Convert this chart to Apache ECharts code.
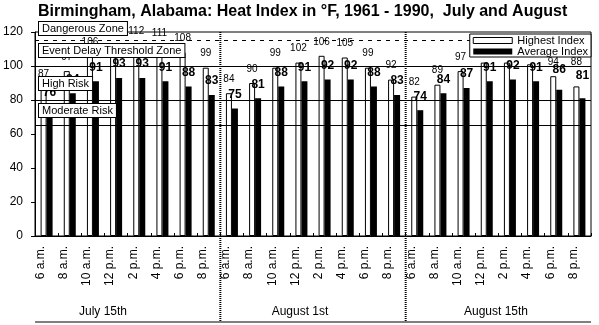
<!DOCTYPE html>
<html><head><meta charset="utf-8">
<script src="https://cdn.jsdelivr.net/npm/echarts@6/dist/echarts.min.js"></script>
<style>html,body{margin:0;padding:0;background:#fff}#c{width:599px;height:325px}</style>
</head><body><div id="c"></div>
<script>
const hours = ["6 a.m.", "8 a.m.", "10 a.m.", "12 p.m.", "2 p.m.", "4 p.m.", "6 p.m.", "8 p.m."];
const dates = ["July 15th", "August 1st", "August 15th"];
const categories = [].concat(hours, hours, hours);
const highestIndex = [87, 97, 106, 113, 112, 111, 108, 99,
                      84, 90, 99, 102, 106, 105, 99, 92,
                      82, 89, 97, 102, 102, 101, 94, 88];
const averageIndex = [76, 84, 91, 93, 93, 91, 88, 83,
                      75, 81, 88, 91, 92, 92, 88, 83,
                      74, 84, 87, 91, 92, 91, 86, 81];
const seriesNames = ["Highest Index", "Average Index"];
const dangerLine = 115;
const riskLines = [100, 80, 65];
const zoneNames = ["Dangerous Zone", "Event Delay Threshold Zone", "High Risk", "Moderate Risk"];
const titleText = "Birmingham, Alabama: Heat Index in °F, 1961 - 1990,  July and August";

const FONT = "'Liberation Sans', Arial, sans-serif";
const chart = echarts.init(document.getElementById('c'), null, {renderer: 'canvas'});

// a few data labels were lifted by hand in the original
const liftHighest = {23: 10};
const liftAverage = {22: 6, 23: 9};
const withLift = (arr, lift) => arr.map((v, i) => lift[i] ? {value: v, label: {offset: [0, -lift[i]]}} : v);

const option = {
  animation: false,
  backgroundColor: '#fff',
  title: {
    text: titleText, left: 38, top: 3, padding: 0,
    textStyle: {fontFamily: FONT, fontSize: 16, fontWeight: 'bold', color: '#000', lineHeight: 17}
  },
  legend: {
    orient: 'vertical', top: 34, right: 8, z: 20,
    backgroundColor: '#fff', borderColor: '#000', borderWidth: 1, borderRadius: 0,
    padding: [1, 3, 0, 3], itemGap: 0, itemWidth: 39, itemHeight: 6,
    icon: 'rect',
    textStyle: {fontFamily: FONT, fontSize: 11, color: '#000', lineHeight: 9.5},
    data: [
      {name: seriesNames[0], itemStyle: {color: '#fff', borderColor: '#000', borderWidth: 1}},
      {name: seriesNames[1], itemStyle: {color: '#000'}}
    ]
  },
  grid: {left: 34, right: 8, top: 32, bottom: 89, show: true, borderColor: '#000', borderWidth: 1, backgroundColor: 'transparent'},
  xAxis: {
    type: 'category', data: categories,
    axisLine: {lineStyle: {color: '#000', width: 1}},
    axisTick: {show: true, inside: true, length: 3, lineStyle: {color: '#000'}},
    axisLabel: {rotate: 90, margin: 10, fontFamily: FONT, fontSize: 12, color: '#000', verticalAlign: 'bottom', interval: 0},
    splitLine: {show: false}
  },
  yAxis: {
    type: 'value', min: 0, max: 120, interval: 20,
    axisLine: {show: true, lineStyle: {color: '#000', width: 1}},
    axisTick: {show: true, length: 4, lineStyle: {color: '#000'}},
    axisLabel: {margin: 12, fontFamily: FONT, fontSize: 12, color: '#000'},
    splitLine: {show: false}
  },
  series: [
    {
      name: seriesNames[0], type: 'bar', data: withLift(highestIndex, liftHighest), barWidth: 6, barGap: '0%',
      itemStyle: {color: '#fff', borderColor: '#000', borderWidth: 1},
      label: {show: true, position: 'top', distance: 9, fontFamily: FONT, fontSize: 10, color: '#000'}
    },
    {
      name: seriesNames[1], type: 'bar', data: withLift(averageIndex, liftAverage), barWidth: 6, barGap: '0%',
      itemStyle: {color: '#000'},
      label: {show: true, position: 'top', distance: 8, fontFamily: FONT, fontSize: 12, fontWeight: 'bold', color: '#000'},
      markLine: {
        silent: true, symbol: 'none', z: 5,
        label: {show: false},
        lineStyle: {color: '#000', width: 1, type: 'solid'},
        data: [{yAxis: dangerLine, lineStyle: {type: [4, 5]}}].concat(riskLines.map(v => ({yAxis: v})))
      }
    }
  ]
};
chart.setOption(option);

// annotations, dividers and group labels
const px = (i) => chart.convertToPixel({xAxisIndex: 0}, i);
const py = (v) => chart.convertToPixel({yAxisIndex: 0}, v);
const step = px(1) - px(0);
const x0 = px(0) - step / 2;
const yTop = py(120);
const yBottom = 322;
const right = x0 + step * categories.length;
const g = [];
for (let k = 1; k < dates.length; k++) {
  const x = x0 + step * hours.length * k;
  g.push({type: 'line', z: 30, shape: {x1: x, y1: yTop, x2: x, y2: yBottom},
          style: {stroke: '#000', lineWidth: 2, lineDash: [1, 1]}});
}
g.push({type: 'line', z: 30, shape: {x1: x0, y1: yBottom, x2: right, y2: yBottom}, style: {stroke: '#000', lineWidth: 1}});
const groupX = [103, 300, 496];
dates.forEach((d, k) => {
  g.push({type: 'text', z: 30, x: groupX[k], y: 312,
          style: {text: d, font: '12px ' + FONT, fill: '#000', align: 'center', verticalAlign: 'middle'}});
});
const zoneTops = [22, 44, 77, 104];
zoneNames.forEach((z, k) => {
  g.push({type: 'text', z: 40, x: 39, y: zoneTops[k],
          style: {text: z, font: '11px ' + FONT, fill: '#000', backgroundColor: '#fff',
                  borderColor: '#000', borderWidth: 1, padding: [1, 3, 0, 3], lineHeight: 12,
                  align: 'left', verticalAlign: 'top'}});
});
chart.setOption({graphic: g});
</script></body></html>
